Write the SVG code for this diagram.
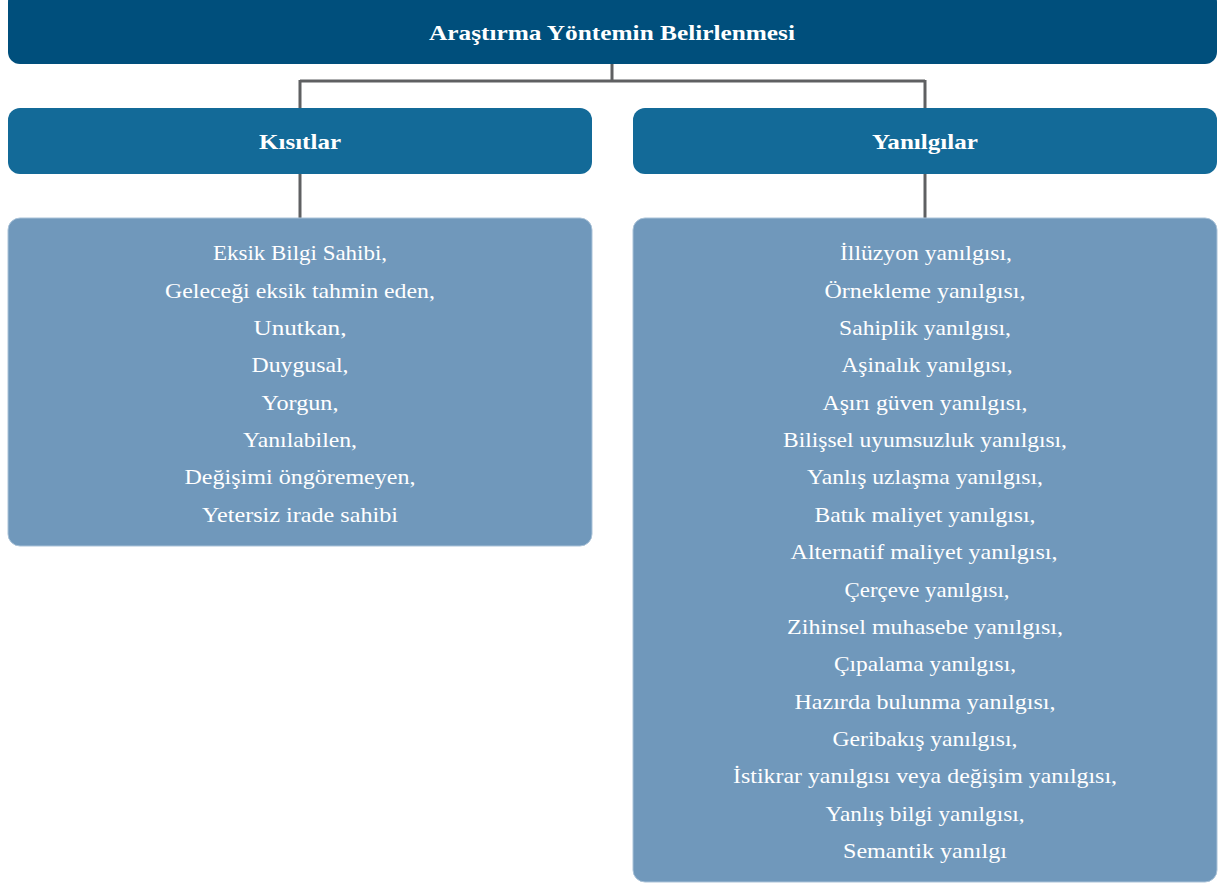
<svg xmlns="http://www.w3.org/2000/svg" width="1219" height="883" viewBox="0 0 1219 883">
<style>
.top{fill:#004F7C;}
.mid{fill:#136A98;}
.box{fill:#7098BB;stroke:#A9C2D8;stroke-width:1;}
.conn{fill:none;stroke:#5F6062;stroke-width:3;}
.title{font-family:"Liberation Serif",serif;font-weight:bold;fill:#FFFFFF;text-anchor:middle;}
.item{font-family:"Liberation Serif",serif;font-size:21px;fill:#FFFFFF;text-anchor:middle;}
</style>
<rect width="1219" height="883" fill="#FFFFFF"/>
<g id="connectors">
<path class="conn" d="M612 58 V81 M300 81 H925 M300 80 V108 M925 80 V108"/>
<path class="conn" d="M300 174 V218"/>
<path class="conn" d="M925 174 V218"/>
</g>
<g id="node-root">
<rect class="top" x="8" y="-10" width="1209" height="74" rx="12"/>
<text class="title" x="612" y="40" font-size="21" textLength="366" lengthAdjust="spacingAndGlyphs">Araştırma Yöntemin Belirlenmesi</text>
</g>
<g id="node-kisitlar">
<rect class="mid" x="8" y="108" width="584" height="66" rx="12"/>
<text class="title" x="300" y="149" font-size="21" textLength="82" lengthAdjust="spacingAndGlyphs">Kısıtlar</text>
</g>
<g id="node-yanilgilar">
<rect class="mid" x="633" y="108" width="584" height="66" rx="12"/>
<text class="title" x="925" y="149" font-size="21" textLength="106" lengthAdjust="spacingAndGlyphs">Yanılgılar</text>
</g>
<g id="node-kisitlar-list">
<rect class="box" x="8" y="218" width="584" height="328" rx="12"/>
<text class="item" x="300" y="260" textLength="174" lengthAdjust="spacingAndGlyphs">Eksik Bilgi Sahibi,</text>
<text class="item" x="300" y="298" textLength="270" lengthAdjust="spacingAndGlyphs">Geleceği eksik tahmin eden,</text>
<text class="item" x="300" y="335" textLength="93" lengthAdjust="spacingAndGlyphs">Unutkan,</text>
<text class="item" x="300" y="372" textLength="97" lengthAdjust="spacingAndGlyphs">Duygusal,</text>
<text class="item" x="300" y="410" textLength="77" lengthAdjust="spacingAndGlyphs">Yorgun,</text>
<text class="item" x="300" y="447" textLength="114" lengthAdjust="spacingAndGlyphs">Yanılabilen,</text>
<text class="item" x="300" y="484" textLength="231" lengthAdjust="spacingAndGlyphs">Değişimi öngöremeyen,</text>
<text class="item" x="300" y="522" textLength="196" lengthAdjust="spacingAndGlyphs">Yetersiz irade sahibi</text>
</g>
<g id="node-yanilgilar-list">
<rect class="box" x="633" y="218" width="584" height="664" rx="12"/>
<text class="item" x="926" y="260" textLength="172" lengthAdjust="spacingAndGlyphs">İllüzyon yanılgısı,</text>
<text class="item" x="925" y="298" textLength="201" lengthAdjust="spacingAndGlyphs">Örnekleme yanılgısı,</text>
<text class="item" x="925" y="335" textLength="172" lengthAdjust="spacingAndGlyphs">Sahiplik yanılgısı,</text>
<text class="item" x="927" y="372" textLength="171" lengthAdjust="spacingAndGlyphs">Aşinalık yanılgısı,</text>
<text class="item" x="925" y="410" textLength="205" lengthAdjust="spacingAndGlyphs">Aşırı güven yanılgısı,</text>
<text class="item" x="925" y="447" textLength="284" lengthAdjust="spacingAndGlyphs">Bilişsel uyumsuzluk yanılgısı,</text>
<text class="item" x="925" y="484" textLength="236" lengthAdjust="spacingAndGlyphs">Yanlış uzlaşma yanılgısı,</text>
<text class="item" x="925" y="522" textLength="221" lengthAdjust="spacingAndGlyphs">Batık maliyet yanılgısı,</text>
<text class="item" x="924" y="559" textLength="267" lengthAdjust="spacingAndGlyphs">Alternatif maliyet yanılgısı,</text>
<text class="item" x="927" y="597" textLength="165" lengthAdjust="spacingAndGlyphs">Çerçeve yanılgısı,</text>
<text class="item" x="925" y="634" textLength="276" lengthAdjust="spacingAndGlyphs">Zihinsel muhasebe yanılgısı,</text>
<text class="item" x="925" y="671" textLength="182" lengthAdjust="spacingAndGlyphs">Çıpalama yanılgısı,</text>
<text class="item" x="925" y="709" textLength="261" lengthAdjust="spacingAndGlyphs">Hazırda bulunma yanılgısı,</text>
<text class="item" x="925" y="746" textLength="185" lengthAdjust="spacingAndGlyphs">Geribakış yanılgısı,</text>
<text class="item" x="925" y="783" textLength="384" lengthAdjust="spacingAndGlyphs">İstikrar yanılgısı veya değişim yanılgısı,</text>
<text class="item" x="925" y="821" textLength="199" lengthAdjust="spacingAndGlyphs">Yanlış bilgi yanılgısı,</text>
<text class="item" x="925" y="858" textLength="164" lengthAdjust="spacingAndGlyphs">Semantik yanılgı</text>
</g>
</svg>
